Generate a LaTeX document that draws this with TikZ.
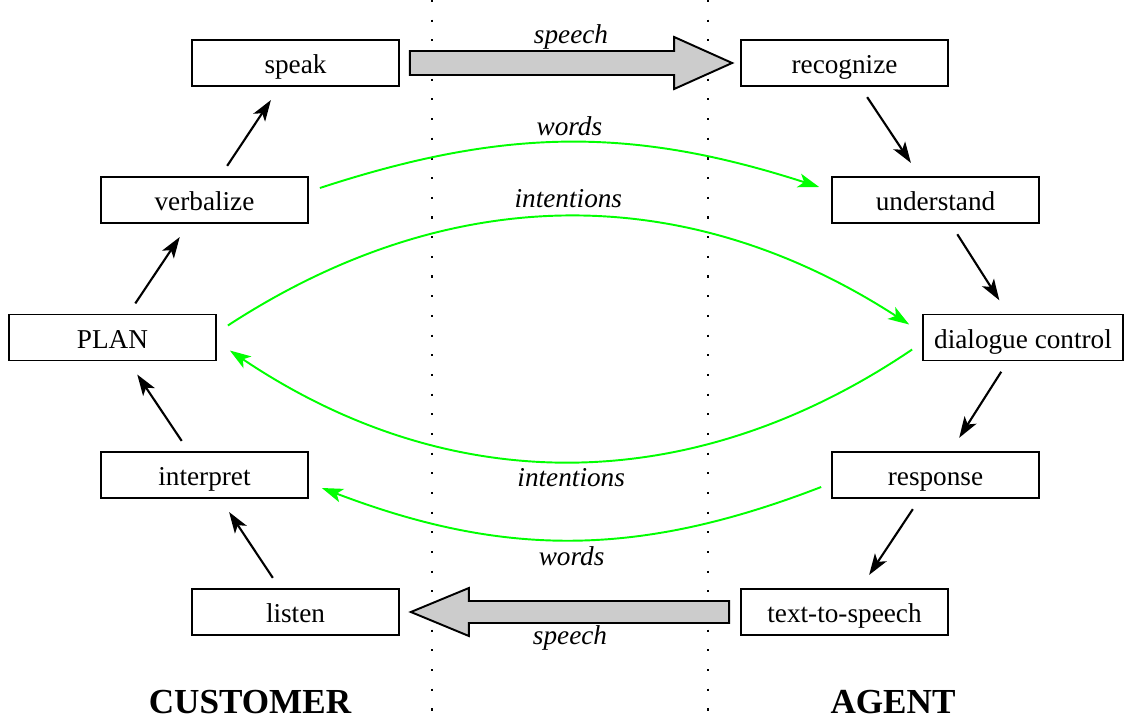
\documentclass[tikz,border=0pt]{standalone}
\usepackage{fontspec}
\setmainfont{Liberation Serif}
\usetikzlibrary{arrows.meta,positioning,calc}

\begin{document}
\begin{tikzpicture}[
  x=0.02cm, y=-0.02cm,
  box/.style={draw, line width=1pt, minimum width=4.14cm, minimum height=0.92cm, inner sep=0pt,
    text height=12.5pt, text depth=0pt, font=\fontsize{15.5}{18}\selectfont},
  flow/.style={-{Stealth[length=12pt, width=8pt, inset=3pt]}, line width=1.2pt, shorten <=7pt, shorten >=9pt},
  talk/.style={-{Stealth[length=12pt, width=8pt, inset=3pt]}, line width=1.1pt, green},
  lbl/.style={text=black, font=\fontsize{15.5}{18}\selectfont\itshape},
  bigarrow/.style={draw=black, line width=1.1pt, fill=gray!40, line join=miter},
  sep/.style={line width=1.2pt, dash pattern=on 1.2pt off 10pt},
  side/.style={font=\fontsize{20}{24}\selectfont\bfseries, anchor=base},
]
  \useasboundingbox (0,0) rectangle (1124,719);

  % dotted separators
  \draw[sep] (432,0) -- (432,719);
  \draw[sep] (708,0) -- (708,719);

  % customer side
  \node[box] (speak) at (295.5,63) {speak};
  \node[box] (verbalize) at (204.5,200) {verbalize};
  \node[box] (plan) at (112.5,337.5) {PLAN};
  \node[box] (interpret) at (204.5,475) {interpret};
  \node[box] (listen) at (295.5,612) {listen};

  % agent side
  \node[box] (recognize) at (844.5,63) {recognize};
  \node[box] (understand) at (935.5,200) {understand};
  \node[box, minimum width=4cm] (control) at (1023,337.5) {dialogue control};
  \node[box] (response) at (935.5,475) {response};
  \node[box] (tts) at (844.5,612) {text-to-speech};

  % processing chain
  \draw[flow] (listen) -- (interpret);
  \draw[flow] (interpret) -- (plan);
  \draw[flow] (plan) -- (verbalize);
  \draw[flow] (verbalize) -- (speak);
  \draw[flow] (recognize) -- (understand);
  \draw[flow] (understand) -- (control);
  \draw[flow] (control) -- (response);
  \draw[flow] (response) -- (tts);

  % speech channel
  \coordinate (spA) at ($(speak.east)+(10,0)$);
  \coordinate (spB) at ($(recognize.west)+(-8,0)$);
  \draw[bigarrow] ($(spA)+(0,-12)$) -- ($(spB)+(-58,-12)$) -- ($(spB)+(-58,-26)$) -- (spB)
    -- ($(spB)+(-58,26)$) -- ($(spB)+(-58,12)$) -- ($(spA)+(0,12)$) -- cycle;
  \node[lbl] (speechtop) at ($(spA)!.5!(spB)+(0,-26)$) {speech};

  \coordinate (ttA) at ($(tts.west)+(-11,0)$);
  \coordinate (ttB) at ($(listen.east)+(11,0)$);
  \draw[bigarrow] ($(ttA)+(0,-11)$) -- ($(ttB)+(58,-11)$) -- ($(ttB)+(58,-24)$) -- (ttB)
    -- ($(ttB)+(58,24)$) -- ($(ttB)+(58,11)$) -- ($(ttA)+(0,11)$) -- cycle;
  \node[lbl] (speechbot) at ($(ttA)!.5!(ttB)+(0,26)$) {speech};

  % words and intentions
  \draw[talk] ([shift={(11,-12)}]verbalize.east) to[bend left=18]
    node[midway, above=0pt, lbl] (wordstop) {words} ([shift={(-12,-13)}]understand.west);
  \draw[talk] ([shift={(11,-12)}]plan.east) to[bend left=33]
    node[midway, above=1pt, lbl] (intenttop) {intentions} ([shift={(-13,-13)}]control.west);
  \draw[talk] ([shift={(-10,12)}]control.west) to[bend left=34]
    node[midway, below, lbl] (intentbot) {intentions} ([shift={(13,13)}]plan.east);
  \draw[talk] ([shift={(-10,12)}]response.west) to[bend left=21]
    node[midway, below, lbl] (wordsbot) {words} ([shift={(13,13)}]interpret.east);

  % parties
  \node[side] (customer) at (250,713) {CUSTOMER};
  \node[side] (agent) at (893,713) {AGENT};
\end{tikzpicture}
\end{document}
